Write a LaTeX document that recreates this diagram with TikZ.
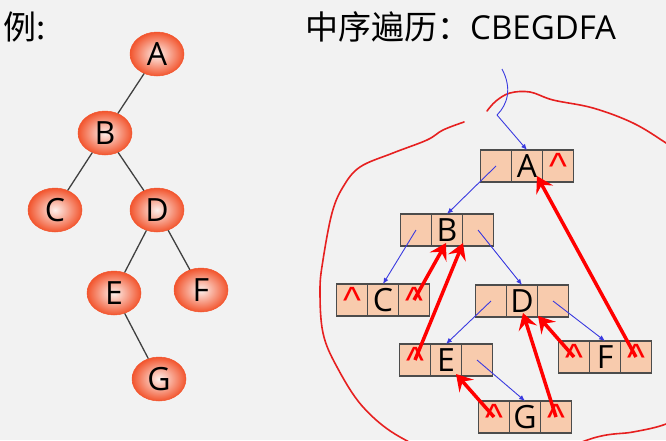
\documentclass[tikz,border=0pt]{standalone}
\usepackage{fontspec}
\setmainfont{Open Sans}
\newfontfamily\cjk{Noto Sans CJK SC}
\newfontfamily\arialfont{Liberation Sans}
\usetikzlibrary{shapes.geometric,arrows.meta}
\definecolor{bg}{HTML}{F2F2F2}
\definecolor{peach}{HTML}{F8CBAD}
\definecolor{ballout}{HTML}{F2552E}
\definecolor{ballin}{HTML}{FDF0EC}
\definecolor{ptr}{HTML}{3A3AE0}
\definecolor{thr}{HTML}{FF0000}
\definecolor{loopc}{HTML}{E62020}
\newcommand\nilmark{{\arialfont\fontsize{38}{40}\selectfont\textcolor{thr}{\textasciicircum}}}
\newcommand\tribox[6]{%
  \node[cell] (#1m) at (#2,#3) {#5};
  \node[cell] (#1l) at (#2-31,#3) {#4};
  \node[cell] (#1r) at (#2+31,#3) {#6};}
\begin{document}
\begin{tikzpicture}[x=1pt,y=-1pt,
  ball/.style={ellipse, minimum width=54pt, minimum height=44pt, inner sep=0pt,
    inner color=ballin, outer color=ballout, draw=ballout, line width=0.5pt,
    font=\fontsize{32}{34}\selectfont},
  tedge/.style={draw=black!75, line width=1.3pt},
  cell/.style={draw=black!70, line width=1.2pt, fill=peach, minimum width=31pt,
    minimum height=32pt, inner sep=0pt, outer sep=0pt, font=\fontsize{32}{34}\selectfont},
  ptrarrow/.style={draw=ptr, line width=0.9pt, -{Latex[length=6pt,width=5pt]}},
  thread/.style={draw=thr, line width=3.5pt, -{Stealth[length=16pt,width=19pt,inset=6pt]}},
  loopline/.style={draw=loopc, line width=1.6pt, line cap=round, line join=round}]
\fill[bg] (0,0) rectangle (666,440);
\useasboundingbox (0,0) rectangle (666,440);
\clip (0,0) rectangle (666,440);

% titles
\node[anchor=base west, inner sep=0pt, font=\cjk\fontsize{33}{35}\selectfont] (ex) at (3,39) {例:};
\node[anchor=base west, inner sep=0pt, font=\fontsize{33}{35}\selectfont] (title) at (305,39) {{\cjk 中序遍历：}CBEGDFA};

% left tree
\node[ball] (A) at (157,54) {A};
\node[ball] (B) at (105,133) {B};
\node[ball] (C) at (55,210) {C};
\node[ball] (D) at (157,210) {D};
\node[ball] (E) at (114,293) {E};
\node[ball] (F) at (201,290) {F};
\node[ball] (G) at (159,379) {G};
\draw[tedge] (A) -- (B);
\draw[tedge] (B) -- (C);
\draw[tedge] (B) -- (D);
\draw[tedge] (D) -- (E);
\draw[tedge] (D) -- (F);
\draw[tedge] (E) -- (G);

% red loop
\draw[loopline] plot[smooth, tension=0.6] coordinates {(464,122) (443,130) (427,140) (393,153) (360,167) (343,187) (332,213) (323,260) (320,290) (323,333) (337,367) (363,407) (400,437) (450,456) (530,458) (597,437) (633,432) (666,424) (690,410)};
\draw[loopline] plot[smooth, tension=0.6] coordinates {(487,111) (496,101) (510,93) (530,92) (553,100) (593,108) (633,123) (666,143) (690,160)};

% threaded binary tree boxes
\tribox{a}{527}{166}{}{A}{\nilmark}
\tribox{b}{447}{230}{}{B}{}
\tribox{c}{383}{300}{\nilmark}{C}{\nilmark}
\tribox{d}{522}{301}{}{D}{}
\tribox{e}{446}{360}{\nilmark}{E}{}
\tribox{f}{605}{357}{\nilmark}{F}{\nilmark}
\tribox{g}{525}{417}{\nilmark}{G}{\nilmark}

% head pointer
\coordinate (hs) at (502,69);
\coordinate (hp) at (497,115);
\draw[draw=ptr, line width=0.9pt] (hs) .. controls (512,88) and (508,104) .. (hp);
\draw[ptrarrow] (hp) -- (am.north);

% child pointers
\draw[ptrarrow] (al.center) -- (bm.north);
\draw[ptrarrow] (bl.center) -- (cm.north);
\draw[ptrarrow] (br.center) -- (dm.north);
\draw[ptrarrow] (dl.center) -- (em.north);
\draw[ptrarrow] (dr.center) -- (fm.north);
\draw[ptrarrow] (er.center) -- (gm.north);

% threads
\draw[thread] (cr.center) -- ([xshift=-1pt,yshift=3pt]bm.south);
\draw[thread] (el.center) -- ([xshift=16pt,yshift=3pt]bm.south);
\draw[thread] (gl.center) -- ([xshift=10pt,yshift=2pt]em.south);
\draw[thread] (gr.center) -- ([xshift=1pt,yshift=4pt]dm.south);
\draw[thread] (fl.center) -- ([xshift=16pt,yshift=1pt]dm.south);
\draw[thread] (fr.center) -- ([xshift=10pt,yshift=6pt]am.south);
\end{tikzpicture}
\end{document}
